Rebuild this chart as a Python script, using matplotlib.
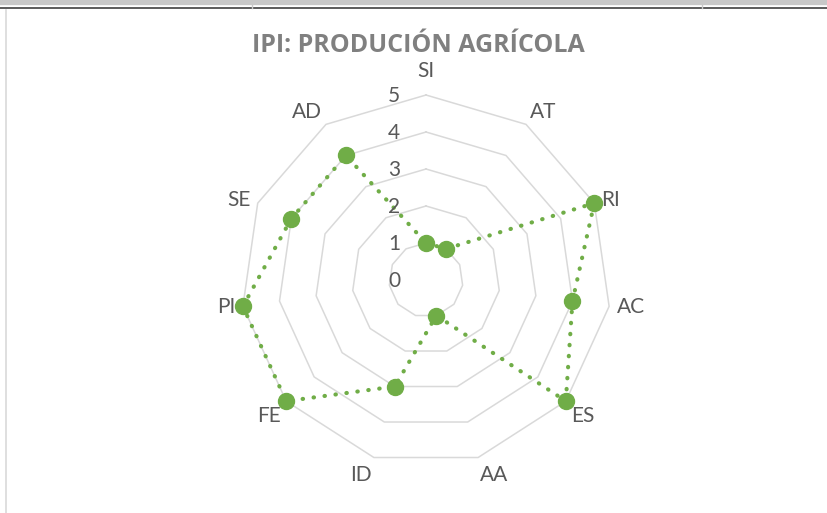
import numpy as np
import matplotlib
matplotlib.use("Agg")
import matplotlib.pyplot as plt
from matplotlib.lines import Line2D

# data
categories = ["SI", "AT", "RI", "AC", "ES", "AA", "ID", "FE", "PI", "SE", "AD"]
values = [1, 1, 5, 4, 5, 1, 3, 5, 5, 4, 4]
rings = [1, 2, 3, 4, 5]
ring_labels = ["0", "1", "2", "3", "4", "5"]
title = "IPI: PRODUCIÓN AGRÍCOLA"

green = "#70ad47"
grid_col = "#d9d9d9"
text_col = "#595959"

plt.rcParams["font.family"] = ["Lato", "DejaVu Sans"]

fig = plt.figure(figsize=(8.27, 5.13), dpi=100)
W, H = 827, 513

# Excel window decorations
fig.add_artist(Line2D([0, 1], [1 - 8 / H] * 2, color="#404040", lw=1.2))
fig.add_artist(Line2D([0, 1], [1 - 1 / H] * 2, color="#c8c8c8", lw=6, zorder=0))
for xp in (252, 702):
    fig.add_artist(Line2D([xp / W] * 2, [1 - 8 / H, 1], color="#c8c8c8", lw=1))
fig.add_artist(Line2D([6 / W] * 2, [0, 1 - 10 / H], color="#d9d9d9", lw=1.2))

cx, cy, rad = 426, 280, 185
ax = fig.add_axes([(cx - rad) / W, (H - cy - rad) / H, 2 * rad / W, 2 * rad / H],
                  projection="polar")
ax.set_theta_zero_location("N")
ax.set_theta_direction(-1)
ax.set_ylim(0, 5)
ax.grid(False)
ax.set_xticks([])
ax.set_yticks([])
ax.spines["polar"].set_visible(False)
ax.patch.set_visible(False)

n = len(categories)
angles = np.linspace(0, 2 * np.pi, n, endpoint=False)
closed = np.append(angles, angles[0])

for r in rings:
    ax.plot(closed, [r] * (n + 1), color=grid_col, lw=1.1, zorder=1, clip_on=False)

vals = np.append(values, values[0])
ax.plot(closed, vals, color=green, lw=3, linestyle=(0, (0.1, 2.55)),
        dash_capstyle="round", zorder=3, clip_on=False)
ax.plot(angles, values, "o", color=green, ms=11.5, zorder=4, clip_on=False)

# category labels: anchored just outside the outer ring, aligned away from centre
for a, lab in zip(angles, categories):
    s, c = np.sin(a), np.cos(a)
    ha = "left" if s > 0.1 else ("right" if s < -0.1 else "center")
    va = "baseline" if c > 0.5 else ("top" if c < -0.5 else "center")
    rr = 5.5 if c > 0.95 else 5.2
    ax.text(a, rr, lab, ha=ha, va=va, fontsize=15, color=text_col)

for i, lab in enumerate(ring_labels):
    ax.annotate(lab, xy=(0, i), xytext=(-32, -1), textcoords="offset pixels",
                ha="center", va="center", fontsize=15, color=text_col)

fig.text(418 / W, 1 - 45 / H, title, ha="center", va="center", fontsize=18,
         fontweight="bold", color="#808080", family=["Open Sans", "DejaVu Sans"])

fig.savefig("out.png", dpi=100)
